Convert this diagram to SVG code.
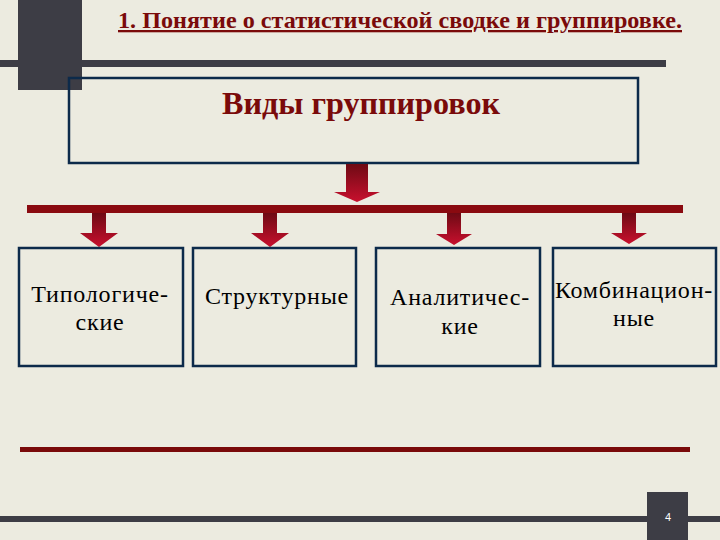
<svg xmlns="http://www.w3.org/2000/svg" width="720" height="540" viewBox="0 0 720 540">
<defs>
<linearGradient id="ag" x1="0" y1="0" x2="0" y2="1"><stop offset="0" stop-color="#6e0a14"/><stop offset="1" stop-color="#c8102e"/></linearGradient>
<style>
.box{fill:none;stroke:#0c2a4a;stroke-width:2.5}
.t{font-family:"Liberation Serif",serif;fill:#000;font-size:24px;letter-spacing:0.8px;text-anchor:middle}
.arr{fill:url(#ag)}
</style>
</defs>
<rect width="720" height="540" fill="#ecebe0"/>
<rect x="18" y="0" width="64" height="90" fill="#3d3d45"/>
<rect x="0" y="60" width="666" height="7" fill="#3d3d45"/>
<text x="400" y="28" font-family="Liberation Serif,serif" font-size="23" font-weight="bold" fill="#7a0a0a" text-anchor="middle" text-decoration="underline" textLength="564" lengthAdjust="spacingAndGlyphs">1. Понятие о статистической сводке и группировке.</text>
<g id="root"><rect class="box" x="69" y="78" width="569" height="85"/>
<text x="361" y="114" font-family="Liberation Serif,serif" font-size="31" font-weight="bold" fill="#7a0a0a" text-anchor="middle" textLength="278" lengthAdjust="spacingAndGlyphs">Виды группировок</text></g>
<g id="connectors">
<path class="arr" d="M346 164h22v28h12l-23 10l-23-10h12z"/>
<rect x="27" y="205" width="656" height="8" fill="#8a0a10"/>
<path class="arr" d="M92 213h14v20h12l-19 14l-19-14h12z"/>
<path class="arr" d="M263 213h14v20h12l-19 14l-19-14h12z"/>
<path class="arr" d="M447 213h14v21h11l-18 11l-18-11h11z"/>
<path class="arr" d="M622 213h14v20h11l-18 11l-18-11h11z"/>
</g>
<g id="n1"><rect class="box" x="19" y="248" width="164" height="118"/><text class="t" x="100" y="302">Типологиче-</text><text class="t" x="100" y="330">ские</text></g>
<g id="n2"><rect class="box" x="193" y="248" width="163" height="118"/><text class="t" x="277" y="304">Структурные</text></g>
<g id="n3"><rect class="box" x="376" y="248" width="164" height="118"/><text class="t" x="460" y="305">Аналитичес-</text><text class="t" x="460" y="334">кие</text></g>
<g id="n4"><rect class="box" x="553" y="248" width="163" height="118"/><text class="t" x="634" y="298">Комбинацион-</text><text class="t" x="634" y="326">ные</text></g>
<rect x="20" y="447" width="670" height="5" fill="#7a0a0a"/>
<rect x="0" y="516" width="720" height="6" fill="#3d3d45"/>
<rect x="647" y="492" width="41" height="48" fill="#3d3d45"/>
<text x="668" y="521" font-family="Liberation Sans,sans-serif" font-size="11" fill="#fff" text-anchor="middle">4</text>
</svg>
